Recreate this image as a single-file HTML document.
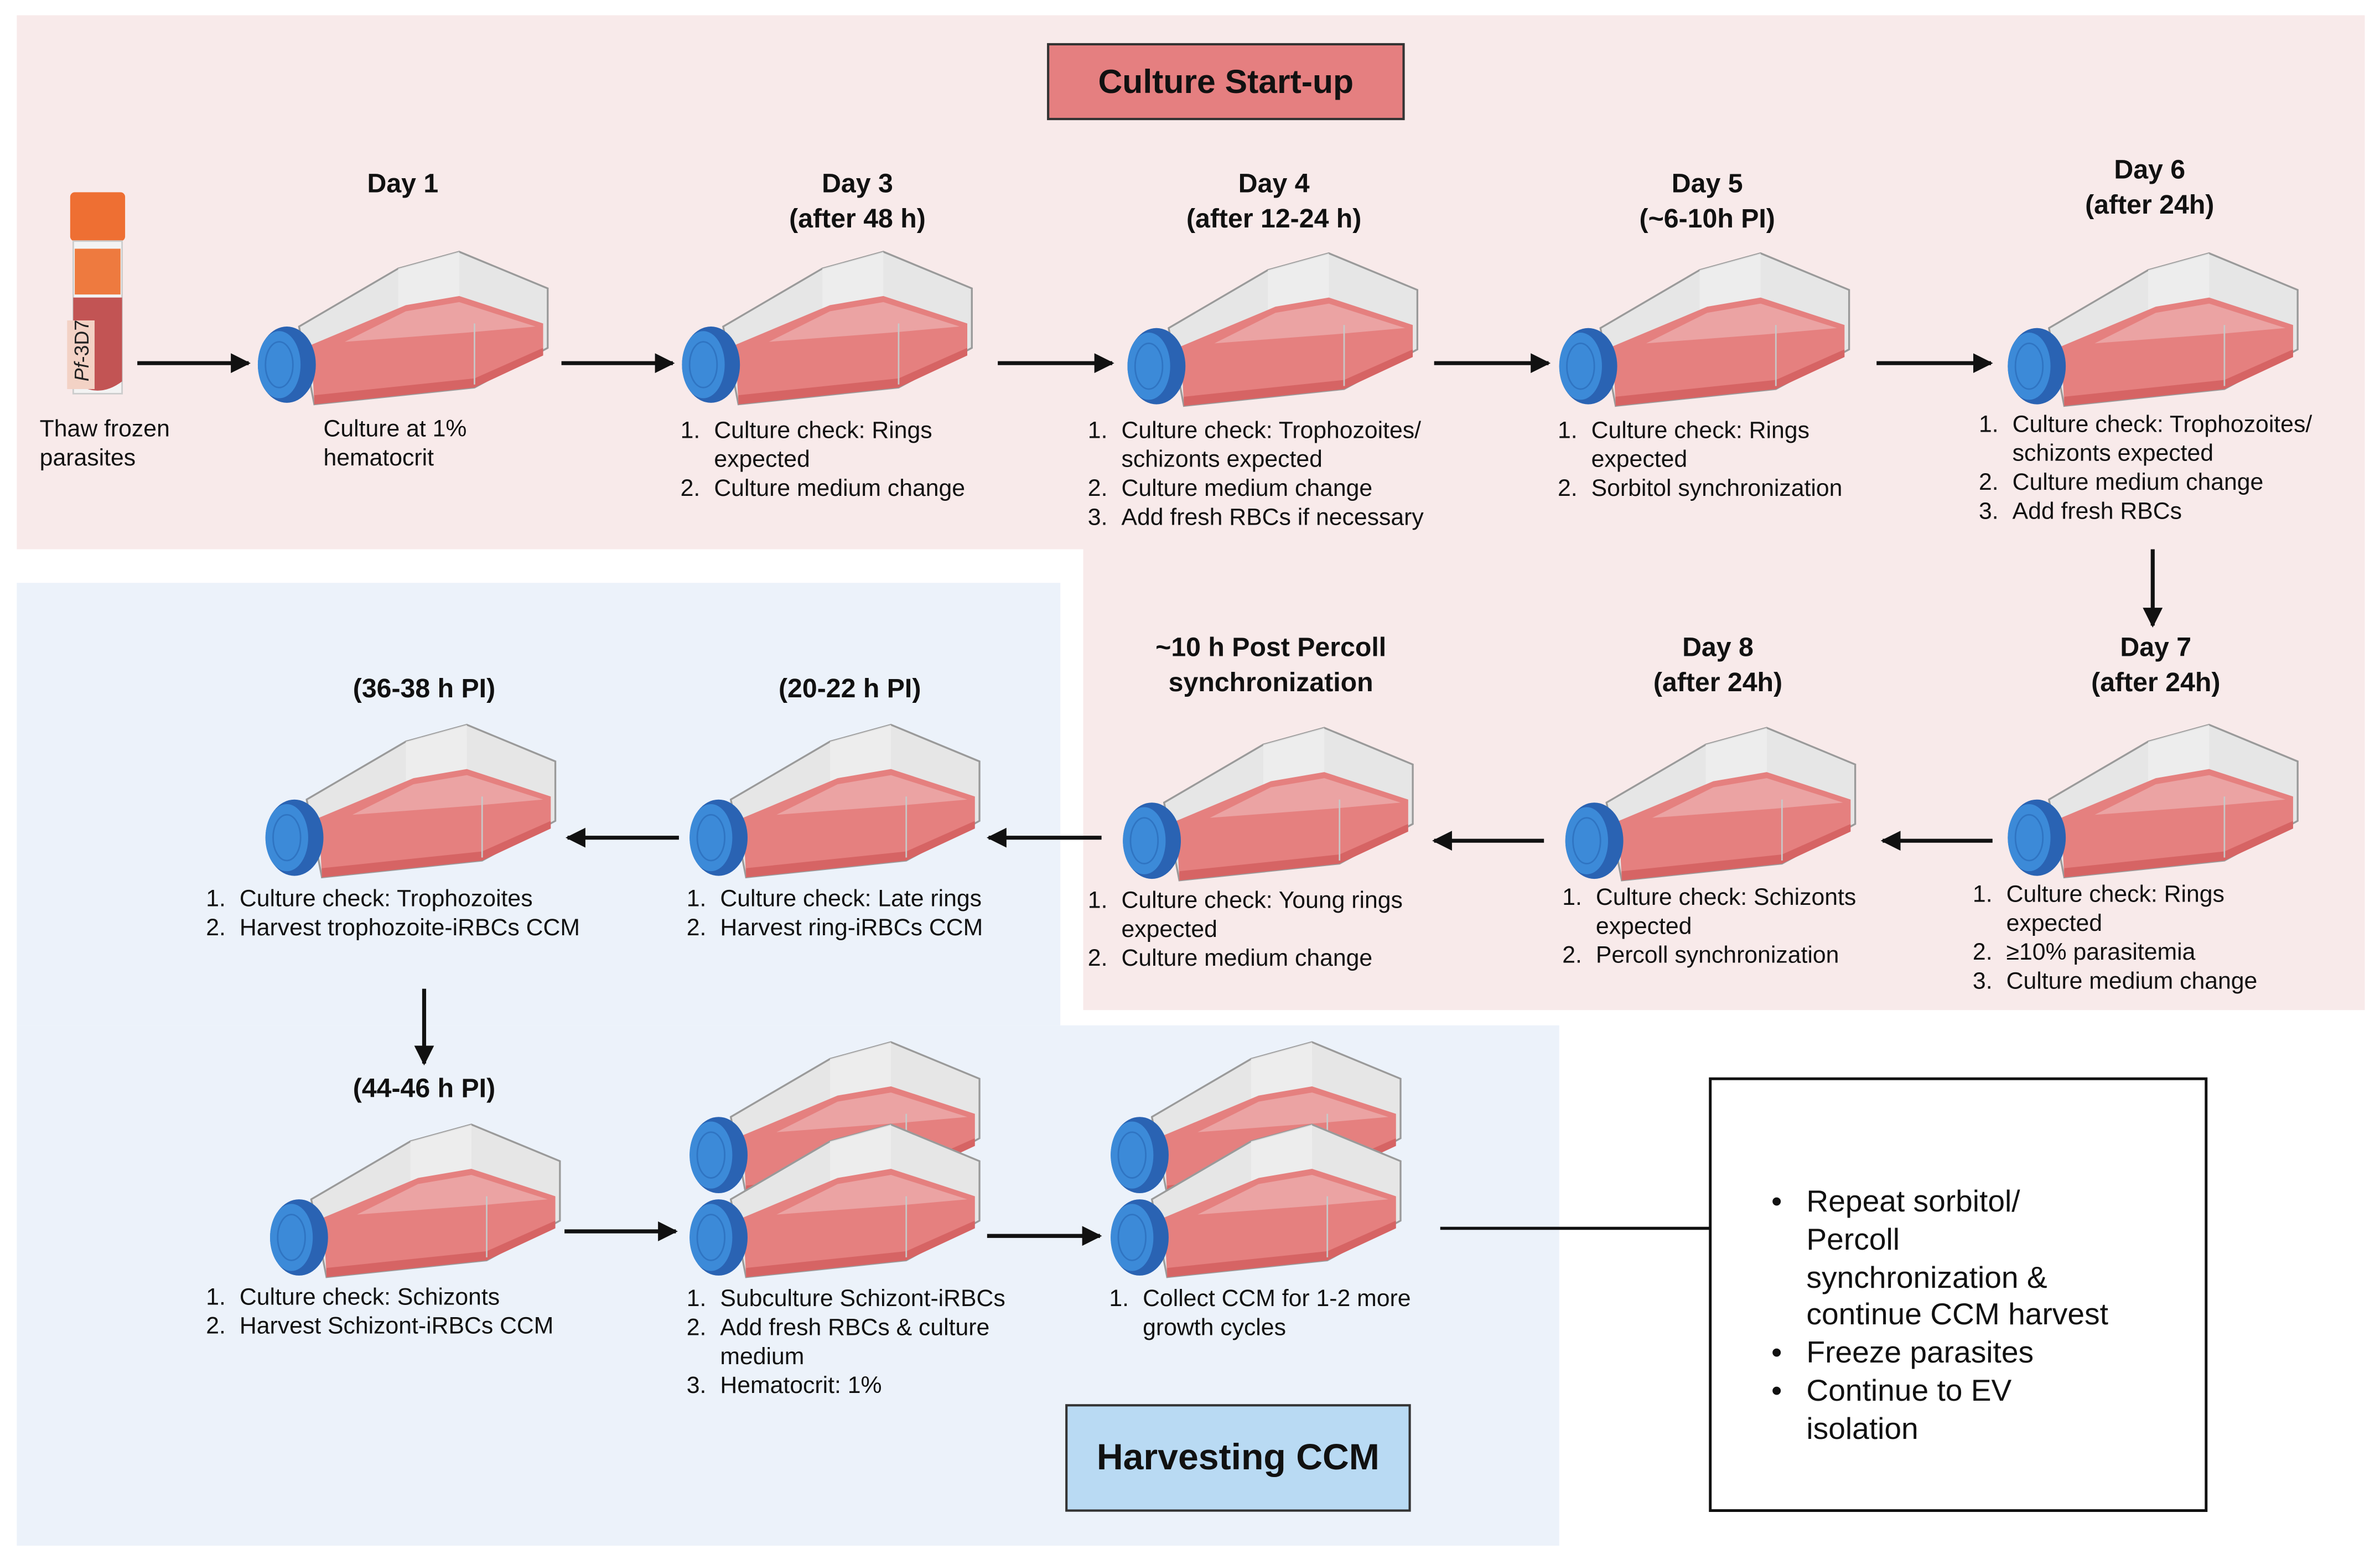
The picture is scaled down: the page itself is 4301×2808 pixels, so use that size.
<!DOCTYPE html>
<html><head><meta charset="utf-8"><style>
html,body{margin:0;padding:0;background:#fff;}
body{width:4301px;height:2808px;overflow:hidden;position:relative;}
#s{position:absolute;left:0;top:0;width:1560px;height:1018px;transform:scale(2.7571);transform-origin:0 0;font-family:"Liberation Sans",sans-serif;color:#111;}
.a{position:absolute;}
.h{position:absolute;font-weight:bold;font-size:17.5px;line-height:23px;text-align:center;width:240px;margin-left:-120px;}
.l{position:absolute;font-size:15.5px;line-height:19px;}
.l p{margin:0;padding-left:22px;position:relative;white-space:nowrap;}
.l p i{position:absolute;left:0;font-style:normal;}
.t{position:absolute;font-size:15.5px;line-height:19px;white-space:nowrap;}
.b p{margin:0;padding-left:23px;position:relative;}
.b p i{position:absolute;left:0;font-style:normal;}
</style></head><body><div id="s">
<svg class="a" style="left:0;top:0" width="1560" height="1018" viewBox="0 0 1560 1018">
<defs>
<marker id="ar" viewBox="0 0 10 10" refX="9" refY="5" markerWidth="5" markerHeight="5" orient="auto"><path d="M0,0L10,5L0,10z" fill="#111"/></marker>
<g id="fl">
<polygon points="30,52 95,14 135,3 193,27 193,66 145,92 40,103" fill="#e6e6e6" stroke="#9a9a9a" stroke-width="1.2"/>
<polygon points="95,14 135,3 135,45 95,52" fill="#efefef" opacity=".8"/>
<polygon points="38,64 100,38 135,32 190,50 190,66 145,92 40,103" fill="#e5807f"/>
<polygon points="60,62 100,42 135,36 185,52 140,56" fill="#eba3a3"/>
<polygon points="40,97 145,86 190,66 190,71 145,92 40,103" fill="#d66464"/>
<line x1="145" y1="50" x2="145" y2="90" stroke="#c8c8c8" stroke-width="1"/>
<ellipse cx="22" cy="77" rx="19" ry="25" fill="#2a63b3"/>
<ellipse cx="17" cy="77" rx="14" ry="22" fill="#3c8ad8"/>
<ellipse cx="17" cy="77" rx="9" ry="15" fill="none" stroke="#2f74c2" stroke-width="1"/>
</g>
</defs>
<rect x="11" y="10" width="1539" height="350" fill="#f8eaea"/>
<rect x="710" y="360" width="840" height="302" fill="#f8eaea"/>
<rect x="11" y="382" width="684" height="290" fill="#ecf2fa"/>
<rect x="11" y="672" width="1011" height="341" fill="#ecf2fa"/>
<rect x="687" y="29" width="233" height="49" fill="#e57f80" stroke="#333" stroke-width="1.5"/>
<rect x="699" y="921" width="225" height="69" fill="#b9daf3" stroke="#333" stroke-width="1.5"/>
<rect x="1121" y="707" width="325" height="283" fill="#fff" stroke="#111" stroke-width="1.8"/>
<rect x="46" y="126" width="36" height="32" rx="3" fill="#ee6f33"/>
<rect x="48" y="158" width="32" height="100" fill="#f3f3f3" stroke="#ccc"/>
<rect x="49" y="163" width="30" height="30" fill="#ee7a3f"/>
<path d="M48,195 h32 v55 q-16,12 -32,0z" fill="#c25454"/>
<rect x="44" y="210" width="18" height="45" fill="#f3d2c5"/>
<text x="0" y="0" transform="translate(58,250) rotate(-90)" font-family="Liberation Sans" font-size="13" fill="#222"><tspan font-style="italic">Pf</tspan>-3D7</text>
<use href="#fl" x="166" y="162"/><use href="#fl" x="444" y="162"/><use href="#fl" x="736" y="163"/><use href="#fl" x="1019" y="163"/><use href="#fl" x="1313" y="163"/>
<use href="#fl" x="1313" y="472"/><use href="#fl" x="1023" y="474"/><use href="#fl" x="733" y="474"/><use href="#fl" x="449" y="472"/><use href="#fl" x="171" y="472"/>
<use href="#fl" x="174" y="734"/>
<use href="#fl" x="449" y="680"/><use href="#fl" x="449" y="734"/>
<use href="#fl" x="725" y="680"/><use href="#fl" x="725" y="734"/>
<g stroke="#111" stroke-width="2.6" marker-end="url(#ar)" fill="none">
<line x1="90" y1="238" x2="163" y2="238"/><line x1="368" y1="238" x2="441" y2="238"/><line x1="654" y1="238" x2="729" y2="238"/><line x1="940" y1="238" x2="1015" y2="238"/><line x1="1230" y1="238" x2="1305" y2="238"/>
<line x1="1411" y1="360" x2="1411" y2="410"/>
<line x1="1306" y1="551" x2="1234" y2="551"/><line x1="1012" y1="551" x2="940" y2="551"/><line x1="722" y1="549" x2="648" y2="549"/><line x1="445" y1="549" x2="372" y2="549"/>
<line x1="278" y1="648" x2="278" y2="697"/>
<line x1="370" y1="807" x2="443" y2="807"/><line x1="647" y1="810" x2="721" y2="810"/>
</g>
<line x1="944" y1="805" x2="1121" y2="805" stroke="#111" stroke-width="2"/>
</svg>
<div class="a" style="left:687px;top:29px;width:233px;height:49px;line-height:49px;text-align:center;font-weight:bold;font-size:22px;">Culture Start-up</div>
<div class="a" style="left:699px;top:921px;width:225px;height:69px;line-height:69px;text-align:center;font-weight:bold;font-size:24px;">Harvesting CCM</div>

<div class="h" style="left:264px;top:109px">Day 1</div>
<div class="h" style="left:562px;top:109px">Day 3<br>(after 48 h)</div>
<div class="h" style="left:835px;top:109px">Day 4<br>(after 12-24 h)</div>
<div class="h" style="left:1119px;top:109px">Day 5<br>(~6-10h PI)</div>
<div class="h" style="left:1409px;top:100px">Day 6<br>(after 24h)</div>
<div class="h" style="left:1413px;top:413px">Day 7<br>(after 24h)</div>
<div class="h" style="left:1126px;top:413px">Day 8<br>(after 24h)</div>
<div class="h" style="left:833px;top:413px">~10 h Post Percoll<br>synchronization</div>
<div class="h" style="left:557px;top:440px">(20-22 h PI)</div>
<div class="h" style="left:278px;top:440px">(36-38 h PI)</div>
<div class="h" style="left:278px;top:702px">(44-46 h PI)</div>

<div class="t" style="left:26px;top:272px">Thaw frozen<br>parasites</div>
<div class="t" style="left:212px;top:272px">Culture at 1%<br>hematocrit</div>

<div class="l" style="left:446px;top:273px"><p><i>1.</i>Culture check: Rings<br>expected</p><p><i>2.</i>Culture medium change</p></div>
<div class="l" style="left:713px;top:273px"><p><i>1.</i>Culture check: Trophozoites/<br>schizonts expected</p><p><i>2.</i>Culture medium change</p><p><i>3.</i>Add fresh RBCs if necessary</p></div>
<div class="l" style="left:1021px;top:273px"><p><i>1.</i>Culture check: Rings<br>expected</p><p><i>2.</i>Sorbitol synchronization</p></div>
<div class="l" style="left:1297px;top:269px"><p><i>1.</i>Culture check: Trophozoites/<br>schizonts expected</p><p><i>2.</i>Culture medium change</p><p><i>3.</i>Add fresh RBCs</p></div>
<div class="l" style="left:1293px;top:577px"><p><i>1.</i>Culture check: Rings<br>expected</p><p><i>2.</i>≥10% parasitemia</p><p><i>3.</i>Culture medium change</p></div>
<div class="l" style="left:1024px;top:579px"><p><i>1.</i>Culture check: Schizonts<br>expected</p><p><i>2.</i>Percoll synchronization</p></div>
<div class="l" style="left:713px;top:581px"><p><i>1.</i>Culture check: Young rings<br>expected</p><p><i>2.</i>Culture medium change</p></div>
<div class="l" style="left:450px;top:580px"><p><i>1.</i>Culture check: Late rings</p><p><i>2.</i>Harvest ring-iRBCs CCM</p></div>
<div class="l" style="left:135px;top:580px"><p><i>1.</i>Culture check: Trophozoites</p><p><i>2.</i>Harvest trophozoite-iRBCs CCM</p></div>
<div class="l" style="left:135px;top:841px"><p><i>1.</i>Culture check: Schizonts</p><p><i>2.</i>Harvest Schizont-iRBCs CCM</p></div>
<div class="l" style="left:450px;top:842px"><p><i>1.</i>Subculture Schizont-iRBCs</p><p><i>2.</i>Add fresh RBCs &amp; culture<br>medium</p><p><i>3.</i>Hematocrit: 1%</p></div>
<div class="l" style="left:727px;top:842px"><p><i>1.</i>Collect CCM for 1-2 more<br>growth cycles</p></div>

<div class="a b" style="left:1161px;top:776px;font-size:20px;line-height:24.8px;">
<p><i>•</i>Repeat sorbitol/<br>Percoll<br>synchronization &amp;<br>continue CCM harvest</p>
<p><i>•</i>Freeze parasites</p>
<p><i>•</i>Continue to EV<br>isolation</p>
</div>
</div></body></html>
